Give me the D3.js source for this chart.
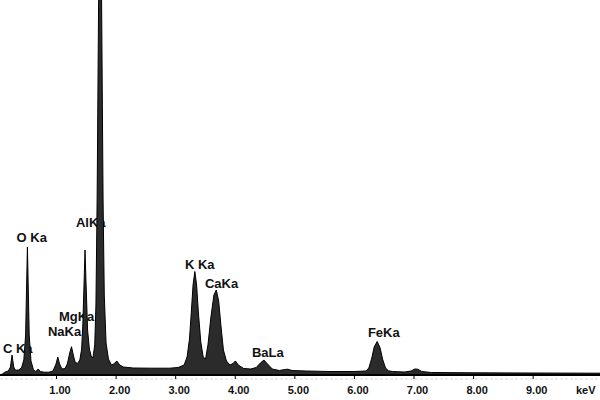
<!DOCTYPE html>
<html>
<head>
<meta charset="utf-8">
<script src="https://cdn.jsdelivr.net/npm/d3@7"></script>
<style>
  html, body { margin: 0; padding: 0; background: #fff; }
  svg { display: block; }
  text { font-family: "Liberation Sans", Arial, sans-serif; font-weight: bold; }
</style>
</head>
<body>
<svg id="chart" width="600" height="400"></svg>
<script>
// EDS spectrum: [energy keV, counts]
const spectrum = [
  [0.06, 0], [0.10, 10], [0.14, 28], [0.20, 40], [0.235, 80], [0.262, 200], [0.29, 80], [0.32, 48],
  [0.37, 50], [0.42, 70], [0.46, 150], [0.49, 400], [0.505, 850], [0.52, 1280], [0.535, 850],
  [0.55, 400], [0.58, 140], [0.62, 55], [0.66, 35], [0.70, 60], [0.74, 35], [0.80, 28],
  [0.88, 28], [0.95, 40], [1.00, 110], [1.03, 180], [1.06, 110], [1.10, 60], [1.15, 65],
  [1.19, 110], [1.23, 220], [1.26, 283], [1.29, 200], [1.32, 130], [1.36, 115], [1.40, 150],
  [1.43, 260], [1.45, 500], [1.47, 900], [1.487, 1250], [1.505, 900], [1.53, 450], [1.56, 260],
  [1.59, 190], [1.62, 170], [1.65, 300], [1.67, 700], [1.69, 1750], [1.715, 3750], [1.74, 6000],
  [1.765, 3750], [1.79, 1750], [1.81, 800], [1.84, 320], [1.88, 160], [1.93, 100], [1.97, 110],
  [2.02, 140], [2.07, 100], [2.13, 80], [2.30, 70], [2.60, 68], [2.90, 68], [3.05, 75],
  [3.15, 100], [3.20, 180], [3.24, 360], [3.27, 620], [3.30, 900], [3.33, 1035], [3.36, 900],
  [3.39, 620], [3.43, 330], [3.47, 180], [3.51, 160], [3.55, 300], [3.60, 580], [3.65, 800],
  [3.69, 850], [3.73, 740], [3.77, 480], [3.81, 250], [3.86, 140], [3.92, 100], [3.97, 115],
  [4.01, 140], [4.06, 100], [4.15, 65], [4.27, 60], [4.36, 75], [4.43, 120], [4.49, 150],
  [4.55, 110], [4.63, 60], [4.75, 45], [4.84, 55], [4.89, 58], [4.96, 45], [5.20, 40],
  [5.60, 35], [6.00, 35], [6.20, 40], [6.25, 70], [6.30, 170], [6.34, 280], [6.39, 335],
  [6.44, 270], [6.48, 160], [6.53, 70], [6.58, 42], [6.65, 35], [6.85, 30], [6.96, 40],
  [7.02, 60], [7.07, 58], [7.14, 35], [7.30, 25], [8.00, 22], [9.00, 20], [10.13, 18]
];

const tickEnergies = [1, 2, 3, 4, 5, 6, 7, 8, 9];
const axisUnit = "keV";

const peakNames   = ["C Ka", "O Ka", "NaKa", "MgKa", "AlKa", "K Ka", "CaKa", "BaLa", "FeKa"];
const labelEnergy = [0.109, 0.339, 0.864, 1.049, 1.334, 3.164, 3.50, 4.288, 6.235];
const labelCounts = [220, 1327, 390, 540, 1477, 1060, 874, 180, 380];

const svg = d3.select("#chart");
const W = 600, H = 400;
const axisY = 375;

const x = d3.scaleLinear().domain([0.06, 10.13]).range([0, W]);
const y = d3.scaleLinear().domain([0, 3750]).range([axisY, 0]);

// faint dotted line under the axis
svg.append("line")
  .attr("x1", 0).attr("x2", W)
  .attr("y1", axisY + 4).attr("y2", axisY + 4)
  .attr("stroke", "#d8d8d8").attr("stroke-width", 1)
  .attr("stroke-dasharray", "3,2");

// peak labels (drawn beneath spectrum, as in reference)
svg.append("g").selectAll("text")
  .data(peakNames)
  .join("text")
  .attr("x", (d, i) => x(labelEnergy[i]))
  .attr("y", (d, i) => y(labelCounts[i]))
  .attr("font-size", 13)
  .attr("fill", "#111")
  .text(d => d);

// spectrum
const area = d3.area()
  .x(d => x(d[0]))
  .y0(y(0))
  .y1(d => y(d[1]))
  .curve(d3.curveLinear);

svg.append("path")
  .datum(spectrum)
  .attr("d", area)
  .attr("fill", "#2b2b2b")
  .attr("stroke", "#000")
  .attr("stroke-width", 1)
  .attr("stroke-linejoin", "round");

// x axis
const axis = d3.axisBottom(x)
  .tickValues(tickEnergies)
  .tickFormat(d3.format(".2f"))
  .tickSize(4)
  .tickPadding(7);

const gx = svg.append("g")
  .attr("transform", `translate(0,${axisY})`)
  .call(axis);
gx.select(".domain").attr("stroke", "#000").attr("stroke-width", 2).attr("d", `M0,0H${W}`);
gx.selectAll(".tick line").attr("stroke", "#000").attr("stroke-width", 1);
gx.selectAll(".tick text")
  .attr("font-size", 11)
  .attr("font-family", "'Liberation Sans', Arial, sans-serif")
  .attr("font-weight", "bold")
  .attr("fill", "#111")
  .attr("dx", 3.5);

svg.append("text")
  .attr("x", W - 24)
  .attr("y", axisY + 19)
  .attr("font-size", 11)
  .attr("fill", "#111")
  .text(axisUnit);
</script>
</body>
</html>
